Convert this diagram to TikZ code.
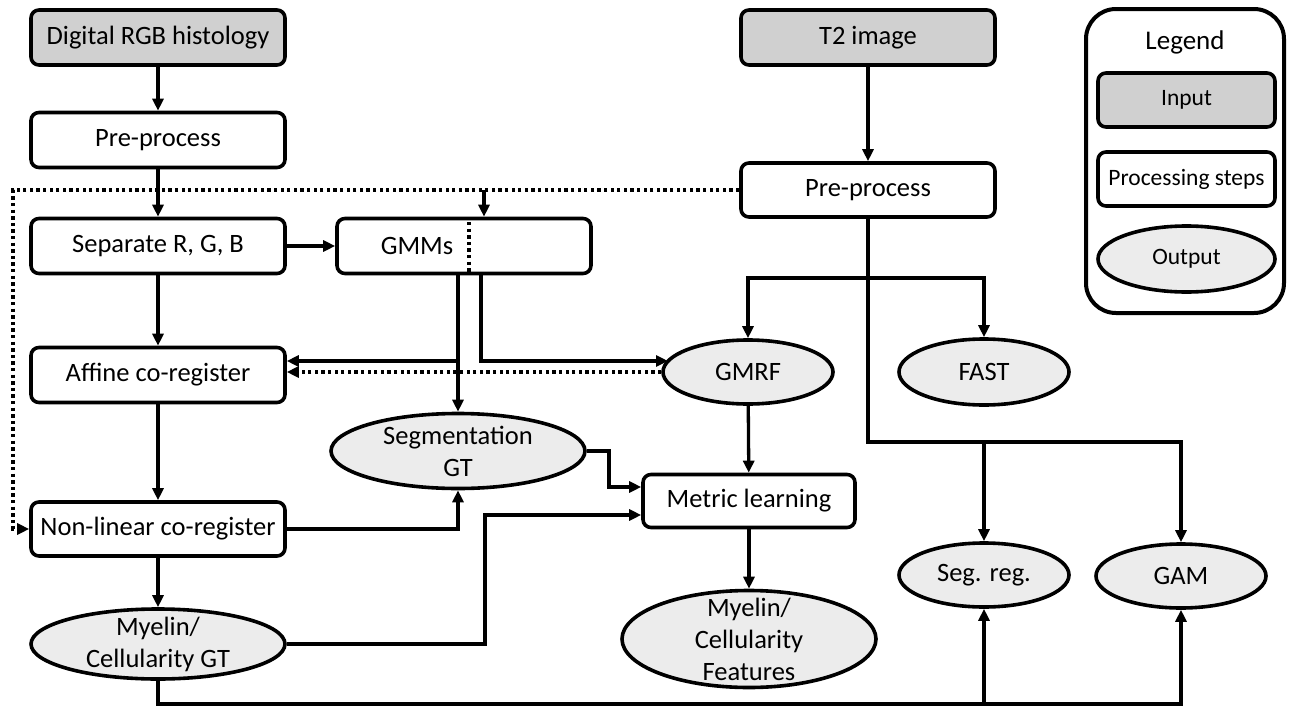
\documentclass[tikz,border=0pt]{standalone}
\usepackage{fontspec}
\setmainfont{Carlito}
\usetikzlibrary{arrows.meta,shapes.geometric}
\definecolor{inputgray}{RGB}{208,208,208}
\definecolor{outgray}{RGB}{236,236,236}
\begin{document}
\begin{tikzpicture}[x=1pt,y=-1pt,
  font=\fontsize{26.5}{32}\selectfont,
  box/.style={draw, line width=3.6pt, rounded corners=8pt, minimum width=254pt, minimum height=55pt, inner sep=0pt, align=center},
  inbox/.style={box, fill=inputgray},
  outell/.style={draw, ellipse, line width=3.6pt, fill=outgray, inner sep=0pt},
  conn/.style={line width=3.3pt},
  arr/.style={conn, -{Triangle[length=12pt,width=11pt]}},
  dots/.style={line width=3.3pt, dash pattern=on 3.3pt off 3.3pt},
  dotarr/.style={dots, -{Triangle[length=12pt,width=11pt]}},
  lbl/.style={align=center, inner sep=0pt},
  legfont/.style={font=\fontsize{23.5}{30}\selectfont}
]
\useasboundingbox (0,0) rectangle (1291,707);

% left column
\node[inbox] (rgb) at (158,37.5) {Digital RGB histology};
\node[box] (pre1) at (158,140) {Pre-process};
\node[box] (sep) at (158,246) {Separate R, G, B};
\node[box] (gmms) at (464,246) {};
\node[lbl] (gmmstext) at (417,246) {GMMs};
\node[box] (aff) at (158,375) {Affine co-register};
\node[box, minimum height=54pt] (nonlin) at (158,529) {Non-linear co-register};
\node[outell, minimum width=254pt, minimum height=70pt,
  label={[lbl]center:{Myelin/\\Cellularity GT}}] (mgt) at (158,644) {};

% middle
\node[outell, minimum width=254pt, minimum height=75pt,
  label={[lbl]center:{Segmentation\\GT}}] (seggt) at (458,451) {};
\node[outell, minimum width=170pt, minimum height=64pt,
  label={[lbl]center:{GMRF}}] (gmrf) at (748,372) {};
\node[outell, minimum width=170pt, minimum height=66pt,
  label={[lbl]center:{FAST}}] (fast) at (984,372) {};
\node[box, minimum width=212pt, minimum height=53pt] (metric) at (749,501) {Metric learning};
\node[outell, minimum width=254pt, minimum height=97pt,
  label={[lbl]center:{Myelin/\\Cellularity\\Features}}] (feat) at (749,639) {};
\node[outell, minimum width=170pt, minimum height=64pt,
  label={[lbl]center:{Seg. reg.}}] (segreg) at (984,575) {};
\node[outell, minimum width=170pt, minimum height=64pt,
  label={[lbl]center:{GAM}}] (gam) at (1181,576) {};

% right column
\node[inbox] (t2) at (868,37.5) {T2 image};
\node[box, minimum height=54pt] (pre2) at (868,190) {Pre-process};

% legend
\node[draw, line width=4pt, rounded corners=30pt, minimum width=198pt, minimum height=304pt] (leg) at (1185,161) {};
\node[lbl, font=\fontsize{27}{32}\selectfont] (legt) at (1185,42) {Legend};
\node[inbox, legfont, minimum width=177pt, minimum height=54pt] (lin) at (1186.5,100) {Input};
\node[box, legfont, minimum width=177pt, minimum height=54pt] (lproc) at (1186.5,179) {Processing steps};
\node[outell, minimum width=177pt, minimum height=66pt,
  label={[lbl,legfont]center:{Output}}] (lout) at (1186.5,259) {};

% coordinates
\coordinate (dl1) at (13,190);
\coordinate (dl2) at (13,529);
\coordinate (gin) at (484,190);
\coordinate (gmrfin) at (668,361);
\coordinate (br) at (868,278);
\coordinate (tj) at (868,442);
\coordinate (bj) at (158,704);

% connectors left column
\draw[arr] (rgb) -- (pre1);
\draw[arr] (pre1) -- (sep);
\draw[arr] (sep) -- (aff);
\draw[arr] (aff) -- (nonlin);
\draw[arr] (nonlin) -- (mgt);
\draw[arr] (sep) -- (gmms);
\draw[arr] (t2) -- (pre2);

% dotted guidance
\draw[dotarr] (pre2.west) -- (dl1) -- (dl2) -- (nonlin.west);
\draw[arr] (gin) -- (gin |- gmms.north);
\draw[dots] (469,222) -- (469,272);

% GMMs outputs
\draw[arr] (gmms.south -| seggt.north) -- (seggt.north);
\draw[arr] (seggt.north |- gmrfin) -- (aff.east |- gmrfin);
\draw[arr] (gmms.south -| 481,0) |- (gmrfin);
\draw[dotarr] (gmrf.west) -- (aff.east |- gmrf.west);

% into segmentation GT and metric learning
\draw[arr] (nonlin.east) -| (seggt.south);
\draw[arr] (mgt.east) -- (485,644) |- (metric.west |- 0,515);
\draw[arr] (seggt.east) -- (609,451) |- (metric.west |- 0,487);
\draw[arr] (gmrf) -- (metric);
\draw[arr] (metric) -- (feat);

% T2 branches
\draw[arr] (br) -| (gmrf.north);
\draw[arr] (br) -| (fast.north);
\draw[arr] (pre2.south) -- (tj) -| (gam.north);
\draw[arr] (segreg.north |- tj) -- (segreg.north);

% bottom line
\draw[arr] (mgt.south) -- (bj) -| (gam.south);
\draw[arr] (segreg.south |- bj) -- (segreg.south);
\end{tikzpicture}
\end{document}
